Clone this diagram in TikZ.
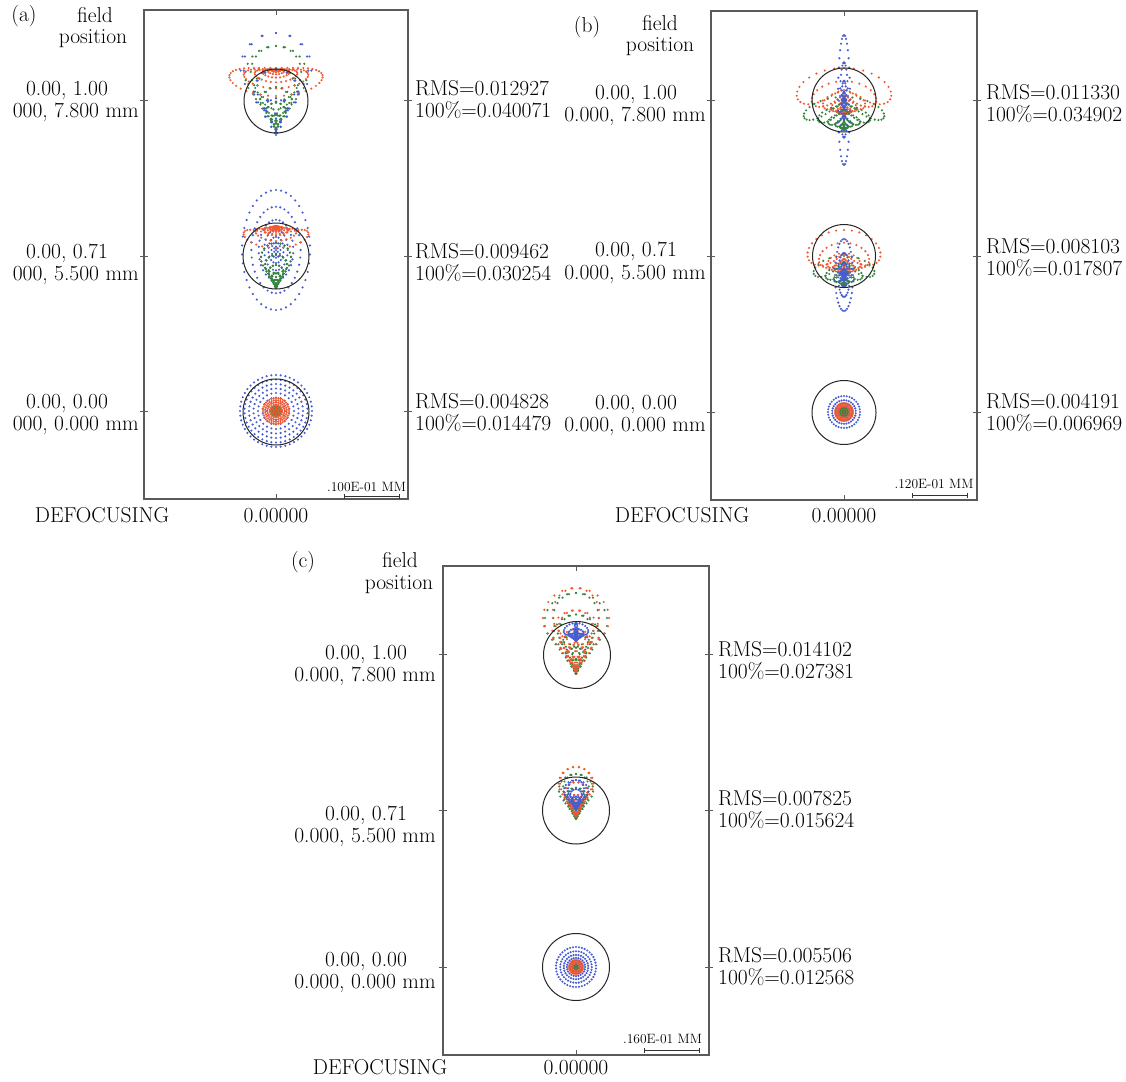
\documentclass[tikz,border=0pt]{standalone}
\usepackage{fontspec}
\definecolor{spblue}{RGB}{70,92,210}
\definecolor{spred}{RGB}{242,88,48}
\definecolor{spgreen}{RGB}{52,132,62}
\definecolor{framegray}{RGB}{90,90,90}
\newcommand{\sphase}{0}
% #1 cx, #2 cy (head), #3 colour, #4 rings, #5 Ax, #6 Ay, #7 Sx, #8 Sy, #9 coma
\newcommand{\spotpat}[9]{%
  \fill[#3] (#1,#2) circle (1.2pt);
  \foreach \spi in {1,...,#4}{%
    \pgfmathsetmacro{\sprho}{\spi/#4}%
    \pgfmathtruncatemacro{\spn}{6*\spi}%
    \pgfmathsetmacro{\spstep}{360/\spn}%
    \foreach \spj in {1,...,\spn}{%
      \pgfmathsetmacro{\spth}{\spstep*(\spj+\sphase)}%
      \fill[#3] ({#1+(#5)*\sprho*sin(\spth)+(#7)*\sprho*\sprho*\sprho*sin(\spth)+(#9)*\sprho*\sprho*sin(2*\spth)},
                 {#2+(#6)*\sprho*cos(\spth)+(#8)*\sprho*\sprho*\sprho*cos(\spth)+(#9)*\sprho*\sprho*(2+cos(2*\spth))}) circle (1.2pt);
    }%
  }%
}
\tikzset{
  lab/.style={font=\fontsize{21.5}{24}\selectfont, inner sep=0pt, anchor=base},
  labr/.style={lab, anchor=base west},
  labl/.style={lab, anchor=base east},
  scl/.style={font=\fontsize{13.5}{15}\selectfont, inner sep=0pt, anchor=base},
  frm/.style={draw=framegray, line width=1.1pt},
  tck/.style={draw=framegray, line width=1pt},
  airy/.style={draw=black!85, line width=1pt},
  bar/.style={draw=black!80, line width=0.9pt}
}
\begin{document}
\begin{tikzpicture}[x=1pt,y=-1pt]
\useasboundingbox (0,0) rectangle (1126,1081);
\fill[white] (0,0) rectangle (1126,1081);

% ===================== panel (a) =====================
\draw[frm] (144,10) rectangle (408,499);
\foreach \yy in {100,256,411}{
  \draw[tck] (140,\yy) -- (148,\yy);
  \draw[tck] (404,\yy) -- (412,\yy);
}
\draw[tck] (276,10) -- (276,15);
\draw[tck] (276,494) -- (276,499);
% spots a1
\spotpat{276}{130}{spgreen}{7}{0}{0}{4}{0}{-28}
\spotpat{276}{70}{spred}{7}{12}{3}{34}{11}{4}
\spotpat{276}{135}{spblue}{5}{0}{0}{2}{0}{-34}
\draw[airy] (276,101) circle (32);
% spots a2
\spotpat{276}{250}{spblue}{7}{14}{24}{20}{36}{0}
\spotpat{276}{288}{spgreen}{7}{0}{0}{0}{0}{-15}
\spotpat{276}{226}{spred}{6}{6}{2}{25}{5}{5}
\draw[airy] (276,256) circle (33);
% spots a3
\spotpat{276}{411}{spblue}{8}{36}{36}{0}{0}{0}
\spotpat{276}{411}{spgreen}{3}{5}{5}{0}{0}{0}
\spotpat{276}{411}{spred}{6}{13}{13}{0}{0}{0}
\draw[airy] (276,412) circle (33);
% scale
\node[scl] (sa) at (366.5,491) {.100E-01 MM};
\coordinate (sa1) at (344,496);
\coordinate (sa2) at (399,496);
\draw[bar] (sa1) -- (sa2);
\draw[bar] ([yshift=-2.5pt]sa1) -- ([yshift=2.5pt]sa1);
\draw[bar] ([yshift=-2.5pt]sa2) -- ([yshift=2.5pt]sa2);
% texts
\node[lab] (atag) at (24,22) {(a)};
\node[lab] (afield) at (95,22.5) {field};
\node[lab] (apos) at (93,43.5) {position};
\node[lab] (af1) at (67,95) {0.00, 1.00};
\node[labl] (ag1) at (139,117) {000, 7.800 mm};
\node[labr] (ar1) at (415,95) {RMS=0.012927};
\node[labr] (ap1) at (415,117) {100\%=0.040071};
\node[lab] (af2) at (67,258) {0.00, 0.71};
\node[labl] (ag2) at (139,280) {000, 5.500 mm};
\node[labr] (ar2) at (415,258) {RMS=0.009462};
\node[labr] (ap2) at (415,280) {100\%=0.030254};
\node[lab] (af3) at (67,408) {0.00, 0.00};
\node[labl] (ag3) at (139,430) {000, 0.000 mm};
\node[labr] (ar3) at (415,408) {RMS=0.004828};
\node[labr] (ap3) at (415,430) {100\%=0.014479};
\node[lab] (adef) at (102,522) {DEFOCUSING};
\node[lab] (aval) at (276,522) {0.00000};

% ===================== panel (b) =====================
\draw[frm] (711,11) rectangle (977,500);
\foreach \yy in {100,256,412}{
  \draw[tck] (707,\yy) -- (715,\yy);
  \draw[tck] (973,\yy) -- (981,\yy);
}
\draw[tck] (844,11) -- (844,16);
\draw[tck] (844,495) -- (844,500);
% spots b1
\spotpat{844}{115}{spred}{7}{8}{2}{34}{9}{-12}
\spotpat{844}{130}{spgreen}{7}{0}{0}{36}{3}{-10}
\spotpat{844}{100}{spblue}{6}{2}{0}{4}{65}{0}
\draw[airy] (844,100) circle (32);
% spots b2
\spotpat{844}{275}{spred}{7}{6}{2}{25}{10}{-11}
\spotpat{844}{286}{spgreen}{6}{0}{0}{26}{3}{-9}
\spotpat{844}{275}{spblue}{6}{3}{4}{6}{32}{0}
\draw[airy] (844,256) circle (31.5);
% spots b3
\spotpat{844}{412}{spblue}{6}{10}{10}{6}{6}{0}
\spotpat{844}{412}{spred}{5}{9}{9}{0}{0}{0}
\spotpat{844}{412}{spgreen}{2}{4}{4}{0}{0}{0}
\draw[airy] (844,412.5) circle (32);
% scale
\node[scl] (sb) at (934,488) {.120E-01 MM};
\coordinate (sb1) at (912,495);
\coordinate (sb2) at (967,495);
\draw[bar] (sb1) -- (sb2);
\draw[bar] ([yshift=-2.5pt]sb1) -- ([yshift=2.5pt]sb1);
\draw[bar] ([yshift=-2.5pt]sb2) -- ([yshift=2.5pt]sb2);
% texts
\node[lab] (btag) at (587,32.5) {(b)};
\node[lab] (bfield) at (660,30.5) {field};
\node[lab] (bpos) at (660,51.5) {position};
\node[lab] (bf1) at (636,99.5) {0.00, 1.00};
\node[lab] (bg1) at (635,121) {0.000, 7.800 mm};
\node[labr] (br1) at (986,99) {RMS=0.011330};
\node[labr] (bp1) at (986,121) {100\%=0.034902};
\node[lab] (bf2) at (636,256) {0.00, 0.71};
\node[lab] (bg2) at (635,279) {0.000, 5.500 mm};
\node[labr] (br2) at (986,253) {RMS=0.008103};
\node[labr] (bp2) at (986,275) {100\%=0.017807};
\node[lab] (bf3) at (636,409) {0.00, 0.00};
\node[lab] (bg3) at (635,431) {0.000, 0.000 mm};
\node[labr] (br3) at (986,408) {RMS=0.004191};
\node[labr] (bp3) at (986,430) {100\%=0.006969};
\node[lab] (bdef) at (682,522) {DEFOCUSING};
\node[lab] (bval) at (844,522) {0.00000};

% ===================== panel (c) =====================
\draw[frm] (443,566) rectangle (709,1055);
\foreach \yy in {654,810,967}{
  \draw[tck] (439,\yy) -- (447,\yy);
  \draw[tck] (705,\yy) -- (713,\yy);
}
\draw[tck] (576,566) -- (576,571);
\draw[tck] (576,1050) -- (576,1055);
% spots c1
\spotpat{576}{674}{spgreen}{7}{0}{0}{6}{0}{-27}
\renewcommand{\sphase}{0.5}
\spotpat{576}{672}{spred}{7}{0}{0}{7}{0}{-28}
\renewcommand{\sphase}{0}
\spotpat{576}{641}{spblue}{6}{0}{0}{8}{0}{-6}
\draw[airy] (577,655) circle (33.5);
% spots c2
\spotpat{576}{819}{spgreen}{6}{0}{0}{3}{0}{-15}
\renewcommand{\sphase}{0.5}
\spotpat{576}{817}{spred}{6}{0}{0}{1}{0}{-16.7}
\renewcommand{\sphase}{0}
\spotpat{576}{810}{spblue}{6}{0}{0}{3}{0}{-10}
\draw[airy] (576,810.5) circle (33.5);
% spots c3
\spotpat{576}{967}{spblue}{7}{14}{14}{6}{6}{0}
\spotpat{576}{967}{spred}{4}{7}{7}{0}{0}{0}
\spotpat{576}{967}{spgreen}{1}{2}{2}{0}{0}{0}
\draw[airy] (576,967) circle (33.5);
% scale
\node[scl] (sc) at (662.5,1043) {.160E-01 MM};
\coordinate (sc1) at (644,1050.5);
\coordinate (sc2) at (699,1050.5);
\draw[bar] (sc1) -- (sc2);
\draw[bar] ([yshift=-2.5pt]sc1) -- ([yshift=2.5pt]sc1);
\draw[bar] ([yshift=-2.5pt]sc2) -- ([yshift=2.5pt]sc2);
% texts
\node[lab] (ctag) at (303,567.5) {(c)};
\node[lab] (cfield) at (400,567.5) {field};
\node[lab] (cpos) at (399,589.5) {position};
\node[lab] (cf1) at (366,659) {0.00, 1.00};
\node[lab] (cg1) at (365,681.5) {0.000, 7.800 mm};
\node[labr] (cr1) at (718,656.5) {RMS=0.014102};
\node[labr] (cp1) at (718,678) {100\%=0.027381};
\node[lab] (cf2) at (366,820.5) {0.00, 0.71};
\node[lab] (cg2) at (365,842) {0.000, 5.500 mm};
\node[labr] (cr2) at (718,805.5) {RMS=0.007825};
\node[labr] (cp2) at (718,827.5) {100\%=0.015624};
\node[lab] (cf3) at (366,966) {0.00, 0.00};
\node[lab] (cg3) at (365,988) {0.000, 0.000 mm};
\node[labr] (cr3) at (718,962) {RMS=0.005506};
\node[labr] (cp3) at (718,984) {100\%=0.012568};
\node[lab] (cdef) at (380,1074) {DEFOCUSING};
\node[lab] (cval) at (576,1074) {0.00000};
\end{tikzpicture}
\end{document}
